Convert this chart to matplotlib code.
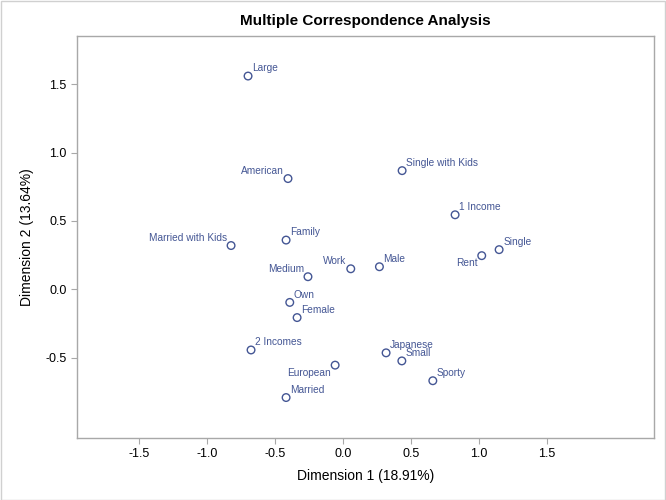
import matplotlib.pyplot as plt
from matplotlib.patches import Rectangle

plt.rcParams['font.family'] = ['Liberation Sans', 'DejaVu Sans']
plt.rcParams['axes.unicode_minus'] = False

# category coordinates (Dimension 1, Dimension 2)
labels = ['Large', 'American', 'Married with Kids', 'Family', 'Medium', 'Work',
          'Male', 'Single with Kids', '1 Income', 'Single', 'Rent', 'Own',
          'Female', '2 Incomes', 'European', 'Married', 'Japanese', 'Small', 'Sporty']
dim1 = [-0.698, -0.404, -0.823, -0.418, -0.257, 0.058,
        0.269, 0.436, 0.826, 1.150, 1.022, -0.391,
        -0.337, -0.676, -0.057, -0.418, 0.318, 0.434, 0.662]
dim2 = [1.560, 0.810, 0.320, 0.360, 0.092, 0.150,
        0.165, 0.868, 0.545, 0.290, 0.246, -0.096,
        -0.207, -0.444, -0.555, -0.792, -0.465, -0.524, -0.669]
# label placement: 'ur' upper right, 'ul' upper left, 'll' lower left
place = ['ur', 'ul', 'ul', 'ur', 'ul', 'ul',
         'ur', 'ur', 'ur', 'ur', 'll', 'ur',
         'ur', 'ur', 'll', 'ur', 'ur', 'ur', 'ur']

col = '#445694'
gray = '#a8a8a8'

fig = plt.figure(figsize=(6.66, 5.0), dpi=100)
ax = fig.add_axes([77 / 666, 62 / 500, 577 / 666, 402 / 500])

ax.scatter(dim1, dim2, s=30, facecolors='none', edgecolors=col, linewidths=1.0)

offs = {'ur': ((3, 2), 'left', 'bottom'),
        'ul': ((-3, 2), 'right', 'bottom'),
        'll': ((-3, -2), 'right', 'top')}
for lab, x, y, p in zip(labels, dim1, dim2, place):
    xy, ha, va = offs[p]
    ax.annotate(lab, (x, y), xytext=xy, textcoords='offset points',
                ha=ha, va=va, fontsize=7.3, color=col)

ax.set_xlim(-1.957, 2.29)
ax.set_ylim(-1.088, 1.853)
ax.set_xticks([-1.5, -1.0, -0.5, 0.0, 0.5, 1.0, 1.5])
ax.set_yticks([-0.5, 0.0, 0.5, 1.0, 1.5])
ax.tick_params(colors=gray, labelcolor='black', labelsize=9, length=4, width=0.8)
for s in ax.spines.values():
    s.set_color(gray)
    s.set_linewidth(1.0)

ax.set_xlabel('Dimension 1 (18.91%)', fontsize=10, labelpad=6)
ax.set_ylabel('Dimension 2 (13.64%)', fontsize=10, labelpad=8)
ax.set_title('Multiple Correspondence Analysis', fontsize=11, fontweight='bold', pad=8)

fig.patches.append(Rectangle((0.001, 0.001), 0.997, 0.997, transform=fig.transFigure,
                             fill=False, edgecolor='#d0d0d0', linewidth=1.0))

fig.savefig('out.png', dpi=100)
